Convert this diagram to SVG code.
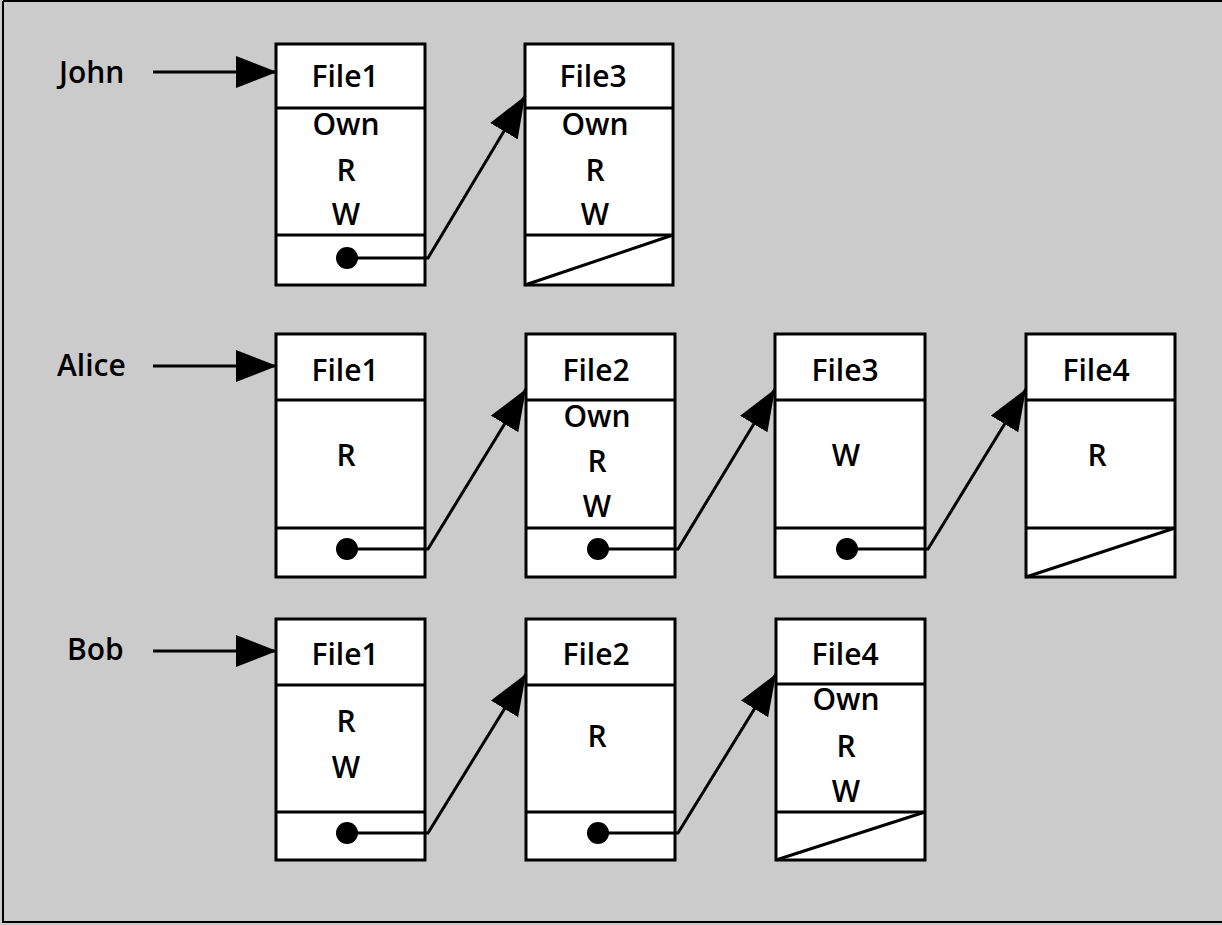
<svg xmlns="http://www.w3.org/2000/svg" width="1222" height="925" viewBox="0 0 1222 925">
<style>
.bg{fill:#cbcbcb}
.frame{fill:none;stroke:#000;stroke-width:2}
.box rect{fill:#fff;stroke:#000;stroke-width:3}
.box line{stroke:#000;stroke-width:3}
.box circle{fill:#000}
text{font-family:"Open Sans","Noto Sans","Liberation Sans",sans-serif;font-weight:600;font-size:30px;fill:#000;text-anchor:middle}
.name{text-anchor:start}
.conn{fill:none;stroke:#000;stroke-width:3}
</style>
<defs>
<marker id="ah" markerUnits="userSpaceOnUse" markerWidth="44" markerHeight="34" refX="41" refY="16" orient="auto" viewBox="0 0 44 34">
<path d="M0,0 L41,16 L0,32 Z" fill="#000"/>
</marker>
</defs>
<rect class="bg" x="0" y="0" width="1222" height="925"/>
<path class="frame" d="M3,1 H1222 M3,1 V922 H1222"/>

<g id="john-label"><text class="name" x="59" y="83">John</text></g>
<g id="alice-label"><text class="name" x="57" y="376">Alice</text></g>
<g id="bob-label"><text class="name" x="67" y="660">Bob</text></g>

<!-- Row 1: John -->
<g id="john-file1" class="box">
<rect x="276" y="44" width="149" height="241"/>
<line x1="276" y1="108" x2="425" y2="108"/>
<line x1="276" y1="235" x2="425" y2="235"/>
<text x="345" y="87">File1</text>
<text x="346" y="135">Own</text>
<text x="346" y="181">R</text>
<text x="346" y="225">W</text>
<circle cx="347" cy="258" r="11"/>
</g>
<g id="john-file3" class="box">
<rect x="525" y="44" width="148" height="241"/>
<line x1="525" y1="108" x2="673" y2="108"/>
<line x1="525" y1="235" x2="673" y2="235"/>
<line x1="525" y1="285" x2="673" y2="235"/>
<text x="593" y="87">File3</text>
<text x="595" y="135">Own</text>
<text x="595" y="181">R</text>
<text x="595" y="225">W</text>
</g>

<!-- Row 2: Alice -->
<g id="alice-file1" class="box">
<rect x="276" y="334" width="149" height="243"/>
<line x1="276" y1="400" x2="425" y2="400"/>
<line x1="276" y1="528" x2="425" y2="528"/>
<text x="345" y="381">File1</text>
<text x="346" y="466">R</text>
<circle cx="347" cy="549" r="11"/>
</g>
<g id="alice-file2" class="box">
<rect x="526" y="334" width="149" height="243"/>
<line x1="526" y1="400" x2="675" y2="400"/>
<line x1="526" y1="528" x2="675" y2="528"/>
<text x="596" y="381">File2</text>
<text x="597" y="427">Own</text>
<text x="597" y="472">R</text>
<text x="597" y="517">W</text>
<circle cx="598" cy="549" r="11"/>
</g>
<g id="alice-file3" class="box">
<rect x="775" y="334" width="150" height="243"/>
<line x1="775" y1="400" x2="925" y2="400"/>
<line x1="775" y1="528" x2="925" y2="528"/>
<text x="845" y="381">File3</text>
<text x="846" y="466">W</text>
<circle cx="847" cy="549" r="11"/>
</g>
<g id="alice-file4" class="box">
<rect x="1026" y="334" width="149" height="243"/>
<line x1="1026" y1="400" x2="1175" y2="400"/>
<line x1="1026" y1="528" x2="1175" y2="528"/>
<line x1="1026" y1="577" x2="1175" y2="528"/>
<text x="1096" y="381">File4</text>
<text x="1097" y="466">R</text>
</g>

<!-- Row 3: Bob -->
<g id="bob-file1" class="box">
<rect x="276" y="619" width="149" height="241"/>
<line x1="276" y1="685" x2="425" y2="685"/>
<line x1="276" y1="812" x2="425" y2="812"/>
<text x="345" y="665">File1</text>
<text x="346" y="732">R</text>
<text x="346" y="778">W</text>
<circle cx="347" cy="833" r="11"/>
</g>
<g id="bob-file2" class="box">
<rect x="526" y="619" width="149" height="241"/>
<line x1="526" y1="685" x2="675" y2="685"/>
<line x1="526" y1="812" x2="675" y2="812"/>
<text x="596" y="665">File2</text>
<text x="597" y="747">R</text>
<circle cx="598" cy="833" r="11"/>
</g>
<g id="bob-file4" class="box">
<rect x="776" y="619" width="149" height="241"/>
<line x1="776" y1="684" x2="925" y2="684"/>
<line x1="776" y1="812" x2="925" y2="812"/>
<line x1="776" y1="860" x2="925" y2="812"/>
<text x="845" y="665">File4</text>
<text x="846" y="710">Own</text>
<text x="846" y="757">R</text>
<text x="846" y="802">W</text>
</g>

<g id="connectors">
<line class="conn" x1="153" y1="72" x2="277" y2="72" marker-end="url(#ah)"/>
<line class="conn" x1="153" y1="366" x2="277" y2="366" marker-end="url(#ah)"/>
<line class="conn" x1="153" y1="651" x2="277" y2="651" marker-end="url(#ah)"/>
<path class="conn" d="M347,258 H428 L525,96" marker-end="url(#ah)"/>
<path class="conn" d="M347,549 H428 L526,389" marker-end="url(#ah)"/>
<path class="conn" d="M598,549 H678 L775,389" marker-end="url(#ah)"/>
<path class="conn" d="M847,549 H928 L1026,389" marker-end="url(#ah)"/>
<path class="conn" d="M347,833 H428 L526,674" marker-end="url(#ah)"/>
<path class="conn" d="M598,833 H678 L776,674" marker-end="url(#ah)"/>
</g>
</svg>
